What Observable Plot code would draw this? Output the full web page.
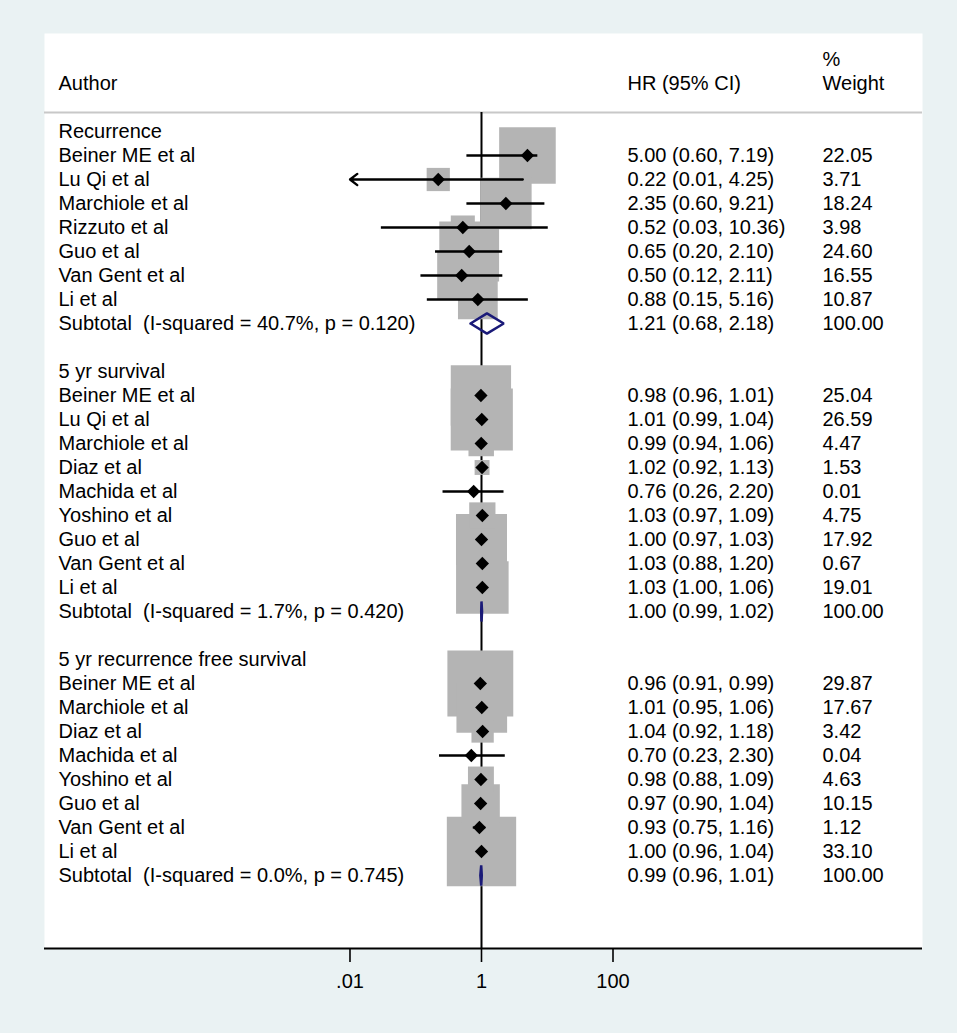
<!DOCTYPE html>
<html>
<head>
<meta charset="utf-8">
<script src="https://cdn.jsdelivr.net/npm/d3@7"></script>
<script src="https://cdn.jsdelivr.net/npm/@observablehq/plot@0.6"></script>
<style>
  html, body { margin: 0; padding: 0; background: #eaf2f3; overflow: hidden; }
  #chart svg { display: block; }
</style>
</head>
<body>
<div id="chart"></div>
<script>
// ---- Data ----
const groupNames = ["Recurrence", "5 yr survival", "5 yr recurrence free survival"];

const authorsRec = ["Beiner ME et al", "Lu Qi et al", "Marchiole et al", "Rizzuto et al", "Guo et al", "Van Gent et al", "Li et al"];
const hrRec  = [5.00, 0.22, 2.35, 0.52, 0.65, 0.50, 0.88];
const lciRec = [0.60, 0.01, 0.60, 0.03, 0.20, 0.12, 0.15];
const uciRec = [7.19, 4.25, 9.21, 10.36, 2.10, 2.11, 5.16];
const wRec   = [22.05, 3.71, 18.24, 3.98, 24.60, 16.55, 10.87];

const authorsOS = ["Beiner ME et al", "Lu Qi et al", "Marchiole et al", "Diaz et al", "Machida et al", "Yoshino et al", "Guo et al", "Van Gent et al", "Li et al"];
const hrOS  = [0.98, 1.01, 0.99, 1.02, 0.76, 1.03, 1.00, 1.03, 1.03];
const lciOS = [0.96, 0.99, 0.94, 0.92, 0.26, 0.97, 0.97, 0.88, 1.00];
const uciOS = [1.01, 1.04, 1.06, 1.13, 2.20, 1.09, 1.03, 1.20, 1.06];
const wOS   = [25.04, 26.59, 4.47, 1.53, 0.01, 4.75, 17.92, 0.67, 19.01];

const authorsRFS = ["Beiner ME et al", "Marchiole et al", "Diaz et al", "Machida et al", "Yoshino et al", "Guo et al", "Van Gent et al", "Li et al"];
const hrRFS  = [0.96, 1.01, 1.04, 0.70, 0.98, 0.97, 0.93, 1.00];
const lciRFS = [0.91, 0.95, 0.92, 0.23, 0.88, 0.90, 0.75, 0.96];
const uciRFS = [0.99, 1.06, 1.18, 2.30, 1.09, 1.04, 1.16, 1.04];
const wRFS   = [29.87, 17.67, 3.42, 0.04, 4.63, 10.15, 1.12, 33.10];

const subHR  = [1.21, 1.00, 0.99];
const subLCI = [0.68, 0.99, 0.96];
const subUCI = [2.18, 1.02, 1.01];
const subI2  = ["40.7%", "1.7%", "0.0%"];
const subP   = ["0.120", "0.420", "0.745"];

const xTicks = [0.01, 1, 100];
const xTickLabels = [".01", "1", "100"];

// ---- Build tables ----
const groups = [
  {authors: authorsRec, hr: hrRec, lci: lciRec, uci: uciRec, w: wRec},
  {authors: authorsOS, hr: hrOS, lci: lciOS, uci: uciOS, w: wOS},
  {authors: authorsRFS, hr: hrRFS, lci: lciRFS, uci: uciRFS, w: wRFS}
];
const f2 = v => v.toFixed(2);
const studies = [], labels = [], subtotals = [], diamonds = [];
let k = 0;
groups.forEach((g, gi) => {
  labels.push({k, label: groupNames[gi], ci: "", wt: ""});
  k++;
  g.authors.forEach((a, i) => {
    const d = {k, author: a, hr: g.hr[i], lci: g.lci[i], uci: g.uci[i], w: g.w[i]};
    studies.push(d);
    labels.push({k, label: a, ci: `${f2(d.hr)} (${f2(d.lci)}, ${f2(d.uci)})`, wt: f2(d.w)});
    k++;
  });
  const s = {k, g: gi, hr: subHR[gi], lci: subLCI[gi], uci: subUCI[gi]};
  subtotals.push(s);
  labels.push({k, label: `Subtotal\u00a0 (I-squared = ${subI2[gi]}, p = ${subP[gi]})`,
               ci: `${f2(s.hr)} (${f2(s.lci)}, ${f2(s.uci)})`, wt: "100.00"});
  const h = 0.42;
  diamonds.push(
    {g: gi, x: s.lci, y: s.k}, {g: gi, x: s.hr, y: s.k - h},
    {g: gi, x: s.uci, y: s.k}, {g: gi, x: s.hr, y: s.k + h},
    {g: gi, x: s.lci, y: s.k}
  );
  k += 2;
});

const headerRows = [
  {k: -2, label: "Author", ci: "HR (95% CI)", wt: "Weight"},
  {k: -3, label: "", ci: "", wt: "%"}
];
const allText = headerRows.concat(labels);

const axisMin = 0.01;
const lined = studies.filter(d => d.lci > axisMin);
const arrowed = studies.filter(d => d.lci <= axisMin);

const yTop = -98 / 24, yBottom = 817 / 24, yHeaderLine = -19 / 24;
const font = "'Liberation Sans', Arial, Helvetica, sans-serif";

const chart = Plot.plot({
  width: 957,
  height: 1033,
  marginLeft: 44,
  marginRight: 35,
  marginTop: 33,
  marginBottom: 85,
  style: {background: "transparent", fontFamily: font, fontSize: "20px", color: "black"},
  x: {type: "log", domain: [Math.pow(10, -6.646), Math.pow(10, 6.707)]},
  y: {domain: [yTop, yBottom], reverse: true, axis: null},
  r: {type: "sqrt", domain: [0, 100], range: [0, 68]},
  marks: [
    Plot.frame({fill: "white", stroke: "none"}),
    Plot.ruleY([yHeaderLine], {stroke: "#c8c8c8", strokeWidth: 2}),
    Plot.ruleX([1], {y1: yHeaderLine, y2: yBottom, stroke: "black", strokeWidth: 2}),
    Plot.dot(studies, {x: "hr", y: "k", r: "w", symbol: "square", fill: "#b4b4b4", stroke: "none"}),
    Plot.ruleY(lined, {y: "k", x1: "lci", x2: "uci", stroke: "black", strokeWidth: 2.3}),
    Plot.arrow(arrowed, {x1: "uci", y1: "k", x2: d => axisMin, y2: "k", stroke: "black", strokeWidth: 2.3, headLength: 6, headAngle: 75, bend: 0}),
    Plot.dot(studies, {x: "hr", y: "k", symbol: "diamond2", r: 6, fill: "black", stroke: "none"}),
    Plot.line(diamonds, {x: "x", y: "y", z: "g", stroke: "#1a1a78", strokeWidth: 2.5, strokeLinejoin: "miter"}),
    Plot.text(allText, {y: "k", text: "label", frameAnchor: "left", dx: 14, textAnchor: "start", fontSize: 20, fill: "black"}),
    Plot.text(allText, {y: "k", text: "ci", frameAnchor: "left", dx: 583, textAnchor: "start", fontSize: 20, fill: "black"}),
    Plot.text(allText, {y: "k", text: "wt", frameAnchor: "left", dx: 778, textAnchor: "start", fontSize: 20, fill: "black"}),
    Plot.ruleY([yBottom], {stroke: "black", strokeWidth: 2}),
    Plot.axisX({ticks: xTicks, tickFormat: (d, i) => xTickLabels[xTicks.indexOf(d)], tickSize: 14, tickPadding: 11, fontSize: 20, strokeWidth: 1.6, stroke: "black", fill: "black", label: null})
  ]
});
document.getElementById("chart").appendChild(chart);
</script>
</body>
</html>
